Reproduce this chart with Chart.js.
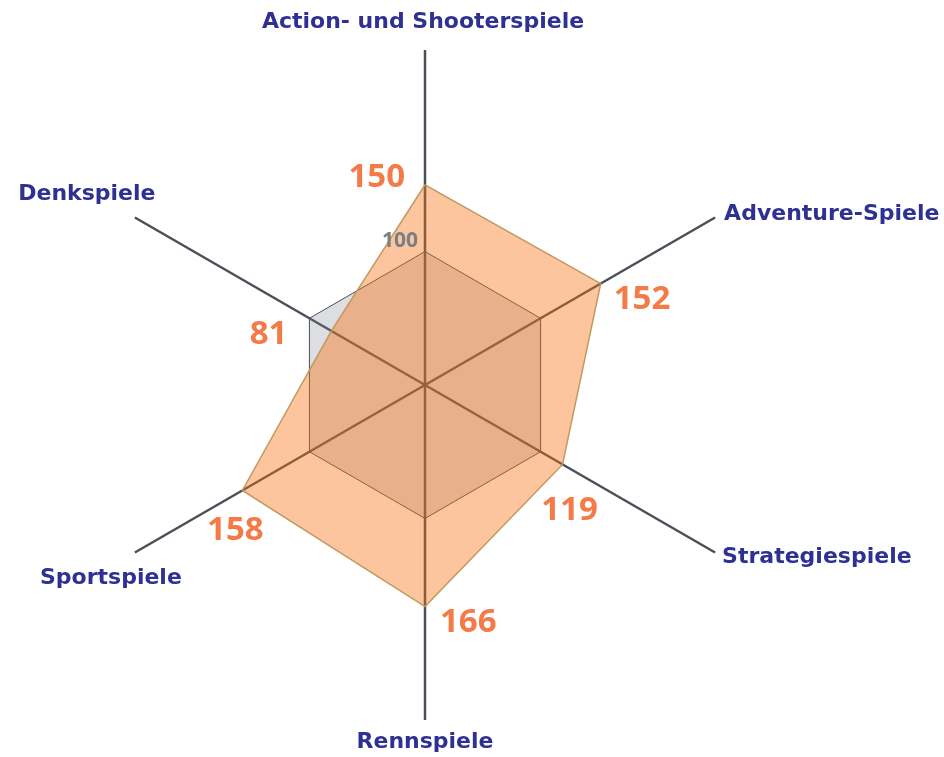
<!DOCTYPE html>
<html>
<head>
<meta charset="utf-8">
<script src="https://cdn.jsdelivr.net/npm/chart.js@4.4.1/dist/chart.umd.min.js"></script>
<style>
  html, body { margin: 0; padding: 0; background: #fff; }
  #wrap { width: 944px; height: 757px; }
</style>
</head>
<body>
<div id="wrap"><canvas id="graph" width="944" height="757"></canvas></div>
<script>
const categories = ['Action- und Shooterspiele', 'Adventure-Spiele', 'Strategiespiele', 'Rennspiele', 'Sportspiele', 'Denkspiele'];
const values = [150, 152, 119, 166, 158, 81];
const baseline = [100, 100, 100, 100, 100, 100];
const scaleMax = 251;

// label placement: [dx, dy, align] relative to the axis end / the vertex
const catOffsets = [[-2, -28, 'center'], [9, -3, 'left'], [7, 5, 'left'], [0, 22, 'center'], [-24, 26, 'center'], [-48, -23, 'center']];
const valOffsets = [[-20, -7, 'right'], [13, 16, 'left'], [7, 46, 'center'], [15, 16, 'left'], [-7, 40, 'center'], [-44, 4, 'right']];

const labelPlugin = {
    id: 'labelPlugin',
    afterDatasetsDraw(chart) {
        const c = chart.ctx;
        const scale = chart.scales.r;
        c.save();
        c.textBaseline = 'middle';
        // category labels
        c.fillStyle = '#2e3192';
        c.font = 'bold 22px "DejaVu Sans"';
        for (let i = 0; i < categories.length; i++) {
            const p = scale.getPointPositionForValue(i, scaleMax);
            c.textAlign = catOffsets[i][2];
            c.fillText(categories[i], p.x + catOffsets[i][0], p.y + catOffsets[i][1]);
        }
        // value labels
        c.fillStyle = '#f47a48';
        c.font = 'bold 33px "Open Sans"';
        const meta = chart.getDatasetMeta(1);
        for (let i = 0; i < values.length; i++) {
            const p = meta.data[i];
            c.textAlign = valOffsets[i][2];
            c.fillText(String(values[i]), p.x + valOffsets[i][0], p.y + valOffsets[i][1]);
        }
        // reference label
        const b = chart.getDatasetMeta(0).data[0];
        c.fillStyle = '#7a7f86';
        c.font = 'bold 21px "Open Sans"';
        c.textAlign = 'right';
        c.fillText(String(baseline[0]), b.x - 7, b.y - 11);
        c.restore();
    }
};

const ctx = document.getElementById('graph');
const config = {
    type: 'radar',
    data: {
        labels: categories,
        datasets: [{
            label: 'Referenz',
            data: baseline,
            order: 2,
            borderColor: '#4a5058',
            borderWidth: 1,
            backgroundColor: 'rgba(120,125,140,0.25)',
            fill: true,
            pointRadius: 0
        }, {
            label: 'Index',
            data: values,
            order: 1,
            borderColor: 'rgba(190,150,90,0.95)',
            borderWidth: 1.5,
            backgroundColor: 'rgba(248,110,10,0.4)',
            fill: true,
            pointRadius: 0
        }]
    },
    options: {
        responsive: false,
        animation: false,
        layout: {
            padding: { left: 90, right: 184, top: 50, bottom: 37 }
        },
        plugins: {
            legend: { display: false },
            tooltip: { enabled: false }
        },
        elements: { line: { tension: 0 } },
        scales: {
            r: {
                min: 0,
                max: scaleMax,
                startAngle: 0,
                ticks: { display: false },
                grid: { display: false },
                pointLabels: { display: false },
                angleLines: { color: '#4a5058', lineWidth: 2.5 }
            }
        }
    },
    plugins: [labelPlugin]
};
var chart = new Chart(ctx, config);
</script>
</body>
</html>
